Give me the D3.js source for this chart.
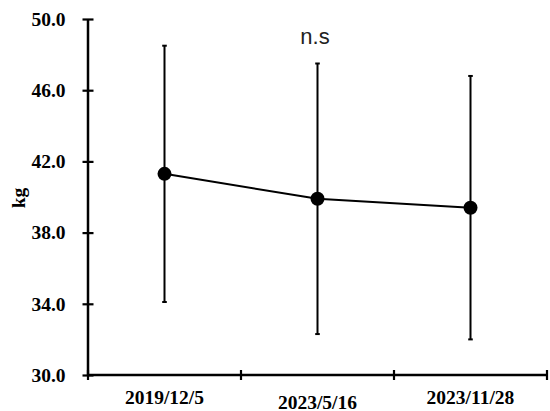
<!DOCTYPE html>
<html>
<head>
<meta charset="utf-8">
<script src="https://cdn.jsdelivr.net/npm/d3@7"></script>
<style>
  html, body { margin: 0; padding: 0; background: #fff; }
  svg { display: block; }
  .serif { font-family: "Liberation Serif", "Times New Roman", Times, serif; font-weight: bold; font-size: 19.5px; fill: #000; }
  .sans { font-family: "Liberation Sans", Arial, Helvetica, sans-serif; font-size: 22px; fill: #222; }
</style>
</head>
<body>
<svg id="chart" width="550" height="411"></svg>
<script>
// Body weight (kg) at three measurement dates: mean ± SD
const dates = ["2019/12/5", "2023/5/16", "2023/11/28"];
const means = [41.3, 39.9, 39.4];
const sds = [7.2, 7.6, 7.4];
const yTicks = [30, 34, 38, 42, 46, 50];
const annotation = "n.s";
const yTitle = "kg";

const svg = d3.select("#chart");
const plotLeft = 88, plotRight = 547, plotTop = 19, plotBottom = 375;

const x = d3.scaleBand().domain(dates).range([plotLeft, plotRight]);
const y = d3.scaleLinear().domain([30, 50]).range([plotBottom, plotTop]);

// Y axis
const yAxis = svg.append("g")
  .attr("transform", `translate(${plotLeft},0)`)
  .call(d3.axisLeft(y).tickValues(yTicks).tickFormat(d3.format(".1f")).tickSize(5.5).tickPadding(17));
yAxis.attr("font-family", null).attr("font-size", null);
yAxis.select(".domain").attr("d", `M0,${y(50)}V${y(30)}`).attr("stroke", "#000").attr("stroke-width", 2.5);
yAxis.selectAll(".tick line").attr("x1", 5.5).attr("x2", -5.5).attr("stroke", "#000").attr("stroke-width", 2.2);
yAxis.selectAll(".tick text").attr("class", "serif");

// X axis with boundary ticks between categories
const xAxis = svg.append("g").attr("transform", `translate(0,${plotBottom})`);
xAxis.append("line")
  .attr("x1", plotLeft).attr("x2", plotRight)
  .attr("stroke", "#000").attr("stroke-width", 2.5);
const bounds = dates.map(d => x(d)).concat([x(dates[dates.length - 1]) + x.bandwidth()]);
xAxis.selectAll("line.bound").data(bounds).join("line")
  .attr("class", "bound")
  .attr("x1", d => d).attr("x2", d => d)
  .attr("y1", -5).attr("y2", 5)
  .attr("stroke", "#000").attr("stroke-width", 2.2);
// Category labels; the middle one sits a little lower
xAxis.selectAll("text").data(dates).join("text")
  .attr("class", "serif")
  .attr("x", d => x(d) + x.bandwidth() / 2)
  .attr("y", (d, i) => i === 1 ? 34 : 29)
  .attr("text-anchor", "middle")
  .text(d => d);

// Y axis title
svg.append("text")
  .attr("class", "serif")
  .attr("transform", `translate(25,${(plotTop + plotBottom) / 2 + 1}) rotate(-90)`)
  .attr("text-anchor", "middle")
  .text(yTitle);

const cx = d => x(d) + x.bandwidth() / 2;
const pts = dates.map((d, i) => ({ d, m: means[i], s: sds[i] }));

// Error bars
const eb = svg.append("g");
eb.selectAll("line.bar").data(pts).join("line")
  .attr("class", "bar")
  .attr("x1", p => cx(p.d)).attr("x2", p => cx(p.d))
  .attr("y1", p => y(p.m + p.s)).attr("y2", p => y(p.m - p.s))
  .attr("stroke", "#000").attr("stroke-width", 2);
[1, -1].forEach(sign => {
  eb.selectAll(null).data(pts).join("line")
    .attr("x1", p => cx(p.d) - 2.3).attr("x2", p => cx(p.d) + 2.3)
    .attr("y1", p => y(p.m + sign * p.s)).attr("y2", p => y(p.m + sign * p.s))
    .attr("stroke", "#000").attr("stroke-width", 2);
});

// Mean line and markers
svg.append("path")
  .datum(pts)
  .attr("fill", "none").attr("stroke", "#000").attr("stroke-width", 2)
  .attr("d", d3.line().x(p => cx(p.d)).y(p => y(p.m)));
svg.selectAll("circle").data(pts).join("circle")
  .attr("cx", p => cx(p.d)).attr("cy", p => y(p.m)).attr("r", 7)
  .attr("fill", "#000");

// Significance note
svg.append("text")
  .attr("class", "sans")
  .attr("x", 315).attr("y", 44)
  .attr("text-anchor", "middle")
  .text(annotation);
</script>
</body>
</html>
